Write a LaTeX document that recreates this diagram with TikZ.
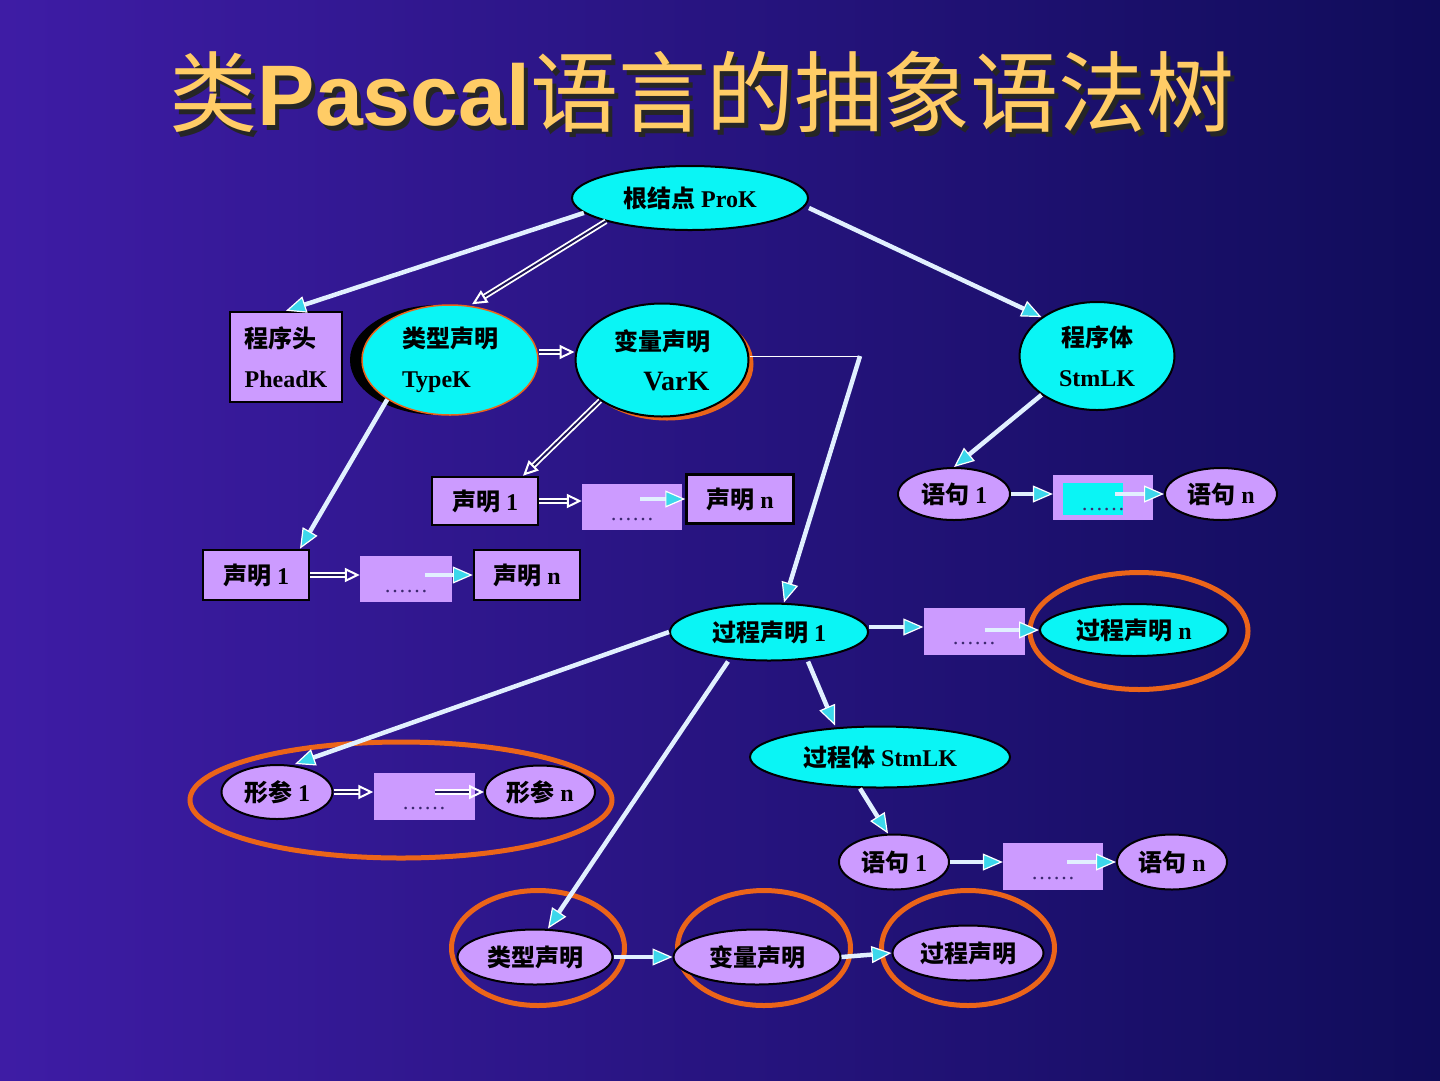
\documentclass[tikz,border=0pt]{standalone}
\usepackage{fontspec}
\setmainfont{Liberation Serif}
\newfontfamily\cjk{Noto Sans CJK SC}
\newfontfamily\titlesans{Liberation Sans}
\newcommand{\zh}[1]{{\cjk #1}}
\usetikzlibrary{shapes.geometric,arrows.meta}
\definecolor{bgleft}{RGB}{62,28,165}
\definecolor{bgright}{RGB}{16,12,90}
\definecolor{cyanfill}{RGB}{10,245,245}
\definecolor{lavender}{RGB}{204,155,255}
\definecolor{ringorange}{RGB}{235,100,25}
\definecolor{titlegold}{RGB}{255,204,102}
\definecolor{linkwhite}{RGB}{225,240,255}
\definecolor{tipcyan}{RGB}{60,215,235}
\definecolor{navyline}{RGB}{30,20,90}
\definecolor{dotcolor}{RGB}{60,40,110}
\begin{document}
\begin{tikzpicture}[x=1pt, y=-1pt,
  oval/.style={ellipse, draw=black, line width=2pt, fill=cyanfill, inner sep=0pt},
  lavoval/.style={oval, fill=lavender},
  declbox/.style={rectangle, draw=black, line width=2.5pt, fill=lavender, inner sep=0pt},
  dotbox/.style={rectangle, fill=lavender, inner sep=0pt, text height=26pt, text depth=0pt, font=\fontsize{22}{22}\selectfont, text=dotcolor},
  ring/.style={ellipse, draw=ringorange, line width=5pt, inner sep=0pt},
  link/.style={draw=linkwhite, line width=4.5pt, -{Triangle[length=20pt, width=17pt, color=white, fill=tipcyan, line width=1.2pt]}},
  hollow/.style={draw=white, double=navyline, double distance=2pt, line width=1.8pt, -{Triangle[open, length=15pt, width=14pt, line width=2pt]}},
  every node/.append style={font=\bfseries\fontsize{24}{40}\selectfont}]
\useasboundingbox (0,0) rectangle (1440,1080);
\fill [left color=bgleft, right color=bgright] (0,0) rectangle (1440,1080);

\node [text=black!85, font=\fontsize{88}{96}\selectfont] (titleshadow) at (706,97) {\zh{类}{\titlesans\bfseries\fontsize{86}{96}\selectfont Pascal}\zh{语言的抽象语法树}};
\node [text=titlegold, font=\fontsize{88}{96}\selectfont] (title) at (702,92) {\zh{类}{\titlesans\bfseries\fontsize{86}{96}\selectfont Pascal}\zh{语言的抽象语法树}};

\node [oval, minimum width=236, minimum height=64] (prok) at (690,198) {\zh{根结点} ProK};
\node [declbox, minimum width=112, minimum height=90, align=left] (phead) at (286,357) {\zh{程序头}\\PheadK};
\node [ellipse, fill=black, minimum width=176, minimum height=110] (typekshadow) at (438,360) {};
\node [oval, draw=ringorange, line width=1.5pt, minimum width=176, minimum height=110, align=left] (typek) at (450,360) {\zh{类型声明}\\TypeK};
\node [ellipse, fill=ringorange, minimum width=173, minimum height=113] (varkshadow) at (667,364) {};
\node [oval, minimum width=173, minimum height=113, align=center] (vark) at (662,360) {\zh{变量声明}\\\hspace*{1.2em}{\fontsize{28}{40}\selectfont VarK}};
\node [oval, minimum width=155, minimum height=108, align=center] (stmlk) at (1097,356) {\zh{程序体}\\StmLK};

\node [declbox, minimum width=106, minimum height=48] (declA1) at (485,501) {\zh{声明} 1};
\node [dotbox, minimum width=100, minimum height=46] (dotsA) at (632,507) {……};
\node [declbox, minimum width=107, minimum height=49] (declAn) at (740,499) {\zh{声明} n};
\node [declbox, minimum width=106, minimum height=50] (declB1) at (256,575) {\zh{声明} 1};
\node [dotbox, minimum width=92, minimum height=46] (dotsB) at (406,579) {……};
\node [declbox, minimum width=106, minimum height=50] (declBn) at (527,575) {\zh{声明} n};

\node [lavoval, minimum width=112, minimum height=52] (stmA1) at (954,494) {\zh{语句} 1};
\node [dotbox, minimum width=100, minimum height=45,
  path picture={\fill [cyanfill] ([shift={(10,8)}]path picture bounding box.north west) rectangle ([shift={(-30,-5)}]path picture bounding box.south east);}] (dotsS) at (1103,497) {……};
\node [lavoval, minimum width=112, minimum height=52] (stmAn) at (1221,494) {\zh{语句} n};

\node [ring, minimum width=218, minimum height=117] (ringP) at (1139,631) {};
\node [oval, minimum width=198, minimum height=57] (proc1) at (769,632) {\zh{过程声明} 1};
\node [dotbox, minimum width=101, minimum height=47] (dotsP) at (974,631) {……};
\node [oval, minimum width=188, minimum height=52] (procn) at (1134,630) {\zh{过程声明} n};

\node [oval, minimum width=260, minimum height=61] (procbody) at (880,757) {\zh{过程体} StmLK};
\node [lavoval, minimum width=110, minimum height=55] (stmB1) at (894,862) {\zh{语句} 1};
\node [dotbox, minimum width=100, minimum height=47] (dotsT) at (1053,866) {……};
\node [lavoval, minimum width=110, minimum height=55] (stmBn) at (1172,862) {\zh{语句} n};

\node [ring, minimum width=422, minimum height=116] (ringF) at (401,800) {};
\node [lavoval, minimum width=111, minimum height=54] (parm1) at (277,792) {\zh{形参} 1};
\node [dotbox, minimum width=101, minimum height=47] (dotsF) at (424,796) {……};
\node [lavoval, minimum width=110, minimum height=53] (parmn) at (540,792) {\zh{形参} n};

\node [ring, minimum width=173, minimum height=115] (ringT) at (538,948) {};
\node [ring, minimum width=173, minimum height=115] (ringV) at (764,948) {};
\node [ring, minimum width=173, minimum height=115] (ringD) at (968,948) {};
\node [lavoval, minimum width=155, minimum height=55] (tdecl) at (535,957) {\zh{类型声明}};
\node [lavoval, minimum width=167, minimum height=55] (vdecl) at (757,957) {\zh{变量声明}};
\node [lavoval, minimum width=151, minimum height=55] (pdecl) at (968,953) {\zh{过程声明}};

\coordinate (bend) at (860,356);

\draw [link] (prok.188) -- (phead.north);
\draw [hollow] (prok.south west) -- ([xshift=22]typek.north);
\draw [link] ([yshift=-10]prok.east) -- (stmlk.north west);
\draw [hollow] ([yshift=8]typek.east) -- ([yshift=8]typek.east -| vark.west);
\draw [link] (typek.south west) -- ([xshift=44]declB1.north);
\draw [hollow] (vark.south west) -- ([xshift=38]declA1.north);
\draw [white, line width=1pt] ([yshift=4]vark.east) -- (bend);
\draw [link] (bend) -- ([xshift=15]proc1.north);
\draw [link] (stmlk.south west) -- (stmA1.north);

\draw [hollow] (declA1.east) -- (declA1.east -| dotsA.west);
\draw [link] ([xshift=-42]dotsA.east |- declAn.west) -- (declAn.west);
\draw [hollow] (declB1.east) -- (declB1.east -| dotsB.west);
\draw [link] ([xshift=-27]dotsB.east |- declBn.west) -- (declBn.west);
\draw [link] (stmA1.east) -- (stmA1.east -| dotsS.west);
\draw [link] ([xshift=-38]dotsS.east |- stmAn.west) -- (stmAn.west);

\draw [link] ([yshift=5]proc1.east) -- ([yshift=5]proc1.east -| dotsP.west);
\draw [link] ([xshift=-40]dotsP.east |- procn.west) -- (procn.west);
\draw [link] ([xshift=39]proc1.south) -- ([xshift=-45]procbody.north);
\draw [link] ([xshift=-20]procbody.south) -- ([xshift=-6]stmB1.north);
\draw [link] (stmB1.east) -- (stmB1.east -| dotsT.west);
\draw [link] ([xshift=-36]dotsT.east |- stmBn.west) -- (stmBn.west);

\draw [link] (proc1.west) -- ([xshift=18]parm1.north);
\draw [hollow] (parm1.east) -- (parm1.east -| dotsF.west);
\draw [hollow] ([xshift=-40]dotsF.east |- parmn.west) -- (parmn.west);
\draw [link] ([xshift=-41]proc1.south) -- ([xshift=13]tdecl.north);
\draw [link] (tdecl.east) -- (vdecl.west);
\draw [link] (vdecl.east) -- (pdecl.west);
\end{tikzpicture}
\end{document}
